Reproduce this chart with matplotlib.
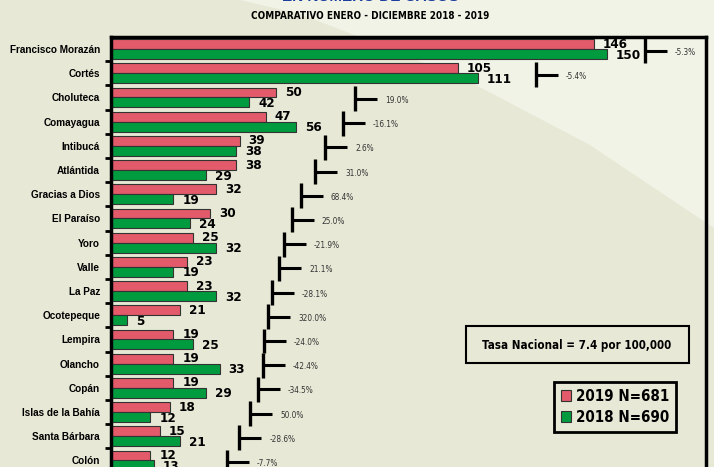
import matplotlib
matplotlib.use("Agg")
import matplotlib.pyplot as plt
from matplotlib import font_manager
from matplotlib.patches import Polygon, Rectangle, Patch
import numpy as np

# ---------------- data ----------------
departamentos = ["Francisco Morazán", "Cortés", "Choluteca", "Comayagua", "Intibucá",
                 "Atlántida", "Gracias a Dios", "El Paraíso", "Yoro", "Valle", "La Paz",
                 "Ocotepeque", "Lempira", "Olancho", "Copán", "Islas de la Bahía",
                 "Santa Bárbara", "Colón"]
casos_2019 = [146, 105, 50, 47, 39, 38, 32, 30, 25, 23, 23, 21, 19, 19, 19, 18, 15, 12]
casos_2018 = [150, 111, 42, 56, 38, 29, 19, 24, 32, 19, 32, 5, 25, 33, 29, 12, 21, 13]
variacion = ["-5.3%", "-5.4%", "19.0%", "-16.1%", "2.6%", "31.0%", "68.4%", "25.0%",
             "-21.9%", "21.1%", "-28.1%", "320.0%", "-24.0%", "-42.4%", "-34.5%",
             "50.0%", "-28.6%", "-7.7%"]
# value of the indicator series drawn as T marks (x-axis units)
indicador = [161.6, 128.6, 73.9, 70.3, 64.9, 61.8, 57.5, 54.8, 52.3, 51.0, 48.8,
             47.6, 46.4, 46.1, 44.6, 42.2, 38.9, 35.2]
leyenda = ["2019 N=681", "2018 N=690"]
titulo = "EN NÚMERO DE CASOS"
subtitulo = "COMPARATIVO ENERO - DICIEMBRE 2018 - 2019"
tasa_texto = "Tasa Nacional = 7.4 por 100,000"

# ---------------- style ----------------
fonts = font_manager.fontManager.ttflist
names = {f.name for f in fonts}
REG = "Liberation Sans" if "Liberation Sans" in names else "DejaVu Sans"
has_narrow = "Liberation Sans Narrow" in names
has_cond = any(("Condensed" in f.fname and "DejaVuSans" in f.fname) for f in fonts)
if has_narrow:
    NARROW = dict(fontfamily="Liberation Sans Narrow")
    NSCALE = 1.0
elif has_cond:
    NARROW = dict(fontfamily="DejaVu Sans", fontstretch="condensed")
    NSCALE = 0.92
else:
    NARROW = dict(fontfamily=REG)
    NSCALE = 0.9

BG = "#E7E9D6"
LIGHT = "#F2F3E7"
RED = "#E35B6B"
GREEN = "#009B3E"

W, H = 714, 467
fig = plt.figure(figsize=(W / 100, H / 100), dpi=100, facecolor=BG)

def fx(px):
    return px / W

def fy(py):
    return 1 - py / H

# background axes with lighter decorative region
bgax = fig.add_axes([0, 0, 1, 1], zorder=-10)
bgax.set_xlim(0, W)
bgax.set_ylim(H, 0)
bgax.axis("off")
bgax.add_patch(Polygon([(240, 0), (714, 0), (714, 228), (590, 145), (470, 82),
                        (380, 45), (300, 14)], closed=True, facecolor=LIGHT,
                       edgecolor="none"))

# axes: top spine at 37 px, rows 24.2 px apart, bottom beyond image
row_px = 24.2
n = len(departamentos)
left_px, right_px, top_px = 110.5, 706, 37
bottom_px = top_px + n * row_px
ax = fig.add_axes([fx(left_px), fy(bottom_px), (right_px - left_px) / W,
                   (bottom_px - top_px) / H], zorder=1)
ax.patch.set_alpha(0)

y = np.arange(n)
bh = 0.41
ax.barh(y - bh / 2, casos_2019, height=bh, color=RED, edgecolor="#333333",
        linewidth=0.8, zorder=3)
ax.barh(y + bh / 2, casos_2018, height=bh, color=GREEN, edgecolor="#333333",
        linewidth=0.8, zorder=3)

xmax = 180
ax.set_xlim(0, xmax)
ax.set_ylim(n - 0.5, -0.5)
upx = xmax / (right_px - left_px)  # data units per pixel
upy = 1 / row_px

for i in range(n):
    ax.text(casos_2019[i] + 9 * upx, y[i] - bh / 2, str(casos_2019[i]),
            fontweight="bold", fontsize=10.5 * NSCALE, va="center",
            ha="left", zorder=5, **NARROW)
    ax.text(casos_2018[i] + 9 * upx, y[i] + bh / 2 + 1 * upy, str(casos_2018[i]),
            fontweight="bold", fontsize=10.5 * NSCALE, va="center",
            ha="left", zorder=5, **NARROW)
    # T mark
    yc = y[i] + 1.5 * upy
    ax.plot([indicador[i], indicador[i]], [yc - 12.5 * upy, yc + 12.5 * upy],
            color="black", linewidth=2.4, solid_capstyle="butt", zorder=4)
    ax.plot([indicador[i], indicador[i] + 22 * upx], [yc, yc], color="black",
            linewidth=2.2, solid_capstyle="butt", zorder=4)
    ax.text(indicador[i] + 30 * upx, yc + 1.5 * upy, variacion[i],
            fontsize=6.5 * NSCALE, color="#333333", va="center", ha="left",
            zorder=5, **NARROW)

ax.set_yticks(y)
ax.set_yticklabels(departamentos, fontfamily=REG, fontweight="bold", fontsize=7.2)
ax.tick_params(axis="y", which="major", length=0, pad=7.5)
ax.set_yticks(np.arange(n) + 0.5, minor=True)
ax.tick_params(axis="y", which="minor", length=4, width=2, color="black")
ax.set_xticks([])
for s in ax.spines.values():
    s.set_linewidth(2.5)
    s.set_color("black")
    s.set_zorder(6)
ax.spines["bottom"].set_visible(False)

# title and subtitle
fig.text(fx(370), fy(0.8), titulo, ha="center", va="baseline", color="#1C3E9E",
         fontfamily=REG, fontweight="bold", fontsize=11)
fig.text(fx(370), fy(16), subtitulo, ha="center", va="center", color="black",
         fontweight="bold", fontsize=7.5 * (1.0 if has_narrow else 0.95), **NARROW)

# Tasa Nacional box
fig.patches.append(Rectangle((fx(466), fy(363)), (689 - 466) / W, (363 - 326) / H,
                             transform=fig.transFigure, facecolor=BG,
                             edgecolor="black", linewidth=1.5, zorder=6))
fig.text(fx(577), fy(345), tasa_texto, ha="center", va="center",
         fontweight="bold", fontsize=(9.5 if has_narrow else 8.3), zorder=7, **NARROW)

# legend
handles = [Patch(facecolor=RED, edgecolor="#333333", linewidth=0.8),
           Patch(facecolor=GREEN, edgecolor="#333333", linewidth=0.8)]
prop = {"weight": "bold", "size": (13.5 if has_narrow else 10.8),
        "family": NARROW["fontfamily"]}
if "fontstretch" in NARROW:
    prop["stretch"] = NARROW["fontstretch"]
leg = fig.legend(handles, leyenda, loc="upper left",
                 bbox_to_anchor=(fx(554), fy(382)), borderaxespad=0,
                 prop=prop, handlelength=0.7, handleheight=0.7, handletextpad=0.3,
                 labelspacing=0.4, borderpad=0.45, fancybox=False,
                 facecolor=BG, edgecolor="black", framealpha=1)
leg.get_frame().set_linewidth(2)
leg.set_zorder(8)

fig.savefig("out.png", dpi=100, facecolor=BG)
